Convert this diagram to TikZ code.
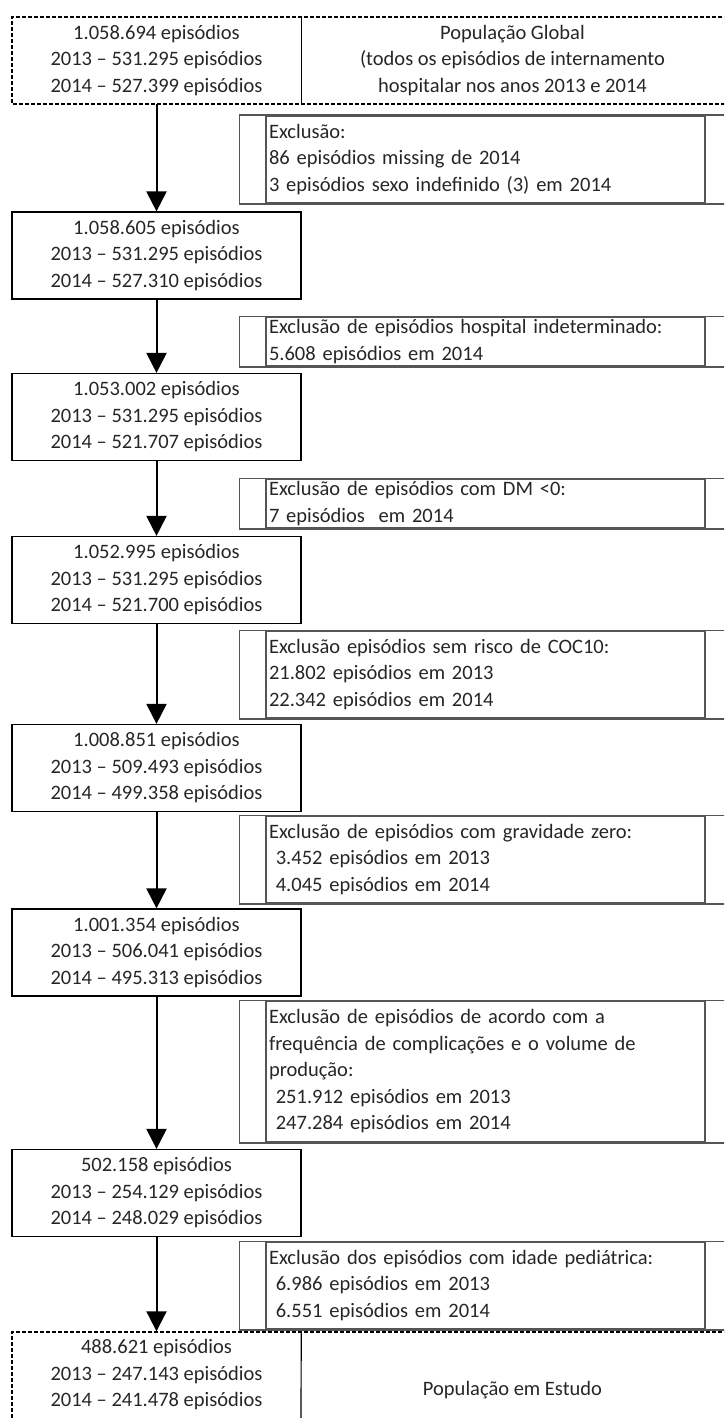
\documentclass[tikz,border=0pt]{standalone}
\usepackage{fontspec}
\setmainfont{Carlito}
\usetikzlibrary{arrows.meta}
\definecolor{txt}{RGB}{38,38,38}
\definecolor{exline}{RGB}{85,85,85}
\tikzset{
  box/.style={minimum width=289pt, minimum height=87pt, align=center, inner sep=0pt, text=txt},
  popbox/.style={box, draw, line width=1.2pt},
  exbox/.style={draw=exline, line width=1.5pt, minimum width=439pt, text width=433pt, inner xsep=3pt, inner ysep=1pt, align=left, text=txt},
  exframe/.style={draw=exline, line width=1.5pt},
  frame/.style={line width=2pt, dash pattern=on 4pt off 2pt},
  arr/.style={line width=2pt, -{Triangle[width=20pt,length=20pt]}}
}
\begin{document}
\begin{tikzpicture}[x=1pt,y=-1pt,font=\fontsize{20.5}{26.5}\selectfont]
\useasboundingbox (0,0) rectangle (724,1418);
\clip (0,0) rectangle (724,1418);
\draw[frame] (740,17) -- (12,17) -- (12,104) -- (740,104);
\draw[frame] (740,1331.5) -- (12,1331.5) -- (12,1440);

\node[box] (b1) at (156.5,60.5) {1.058.694 episódios\\2013 -- 531.295 episódios\\2014 -- 527.399 episódios};
\node[align=center, text=txt, inner sep=0pt] (pg) at (512.5,60.5) {População Global\\(todos os episódios de internamento\\hospitalar nos anos 2013 e 2014};
\draw[line width=1.2pt] (b1.north east) -- (b1.south east);

\foreach \n/\y/\a/\b/\c in {2/255.5/1.058.605/531.295/527.310, 3/417/1.053.002/531.295/521.707,
  4/580/1.052.995/531.295/521.700, 5/768/1.008.851/509.493/499.358,
  6/952.5/1.001.354/506.041/495.313, 7/1193/502.158/254.129/248.029} {
 \node[popbox] (b\n) at (156.5,\y) {\a\ episódios\\2013 -- \b\ episódios\\2014 -- \c\ episódios};
}

\node[box] (b8) at (156.5,1375) {488.621 episódios\\2013 -- 247.143 episódios\\2014 -- 241.478 episódios};
\node[text=txt, inner sep=0pt] (pe) at (512.5,1390) {População em Estudo};
\draw[line width=1.2pt] (b8.north east) -- (301,1440);

\node[exbox, minimum height=87pt] (e1) at (485.5,159.5) {Exclusão:\\86 episódios missing de 2014\\3 episódios sexo indefinido (3) em 2014};
\node[exbox, minimum height=49pt] (e2) at (485.5,341.5) {Exclusão de episódios hospital indeterminado:\\5.608 episódios em 2014};
\node[exbox, minimum height=49pt] (e3) at (485.5,503.5) {Exclusão de episódios com DM <0:\\7 episódios \ em 2014};
\node[exbox, minimum height=87pt] (e4) at (485.5,674.5) {Exclusão episódios sem risco de COC10:\\21.802 episódios em 2013\\22.342 episódios em 2014};
\node[exbox, minimum height=87pt] (e5) at (485.5,859.5) {Exclusão de episódios com gravidade zero:\\\ 3.452 episódios em 2013\\\ 4.045 episódios em 2014};
\node[exbox, minimum height=141pt] (e6) at (485.5,1071.5) {Exclusão de episódios de acordo com a\\frequência de complicações e o volume de\\produção:\\\ 251.912 episódios em 2013\\\ 247.284 episódios em 2014};
\node[exbox, minimum height=87pt] (e7) at (485.5,1285.5) {Exclusão dos episódios com idade pediátrica:\\\ 6.986 episódios em 2013\\\ 6.551 episódios em 2014};
\foreach \e in {e1,e2,e3,e4,e5,e6,e7}
 \draw[exframe] ([xshift=-26pt]\e.north west) rectangle ([xshift=30pt]\e.south east);

\foreach \i/\j in {1/2,2/3,3/4,4/5,5/6,6/7,7/8}
 \draw[arr] (b\i) -- (b\j);
\end{tikzpicture}
\end{document}
